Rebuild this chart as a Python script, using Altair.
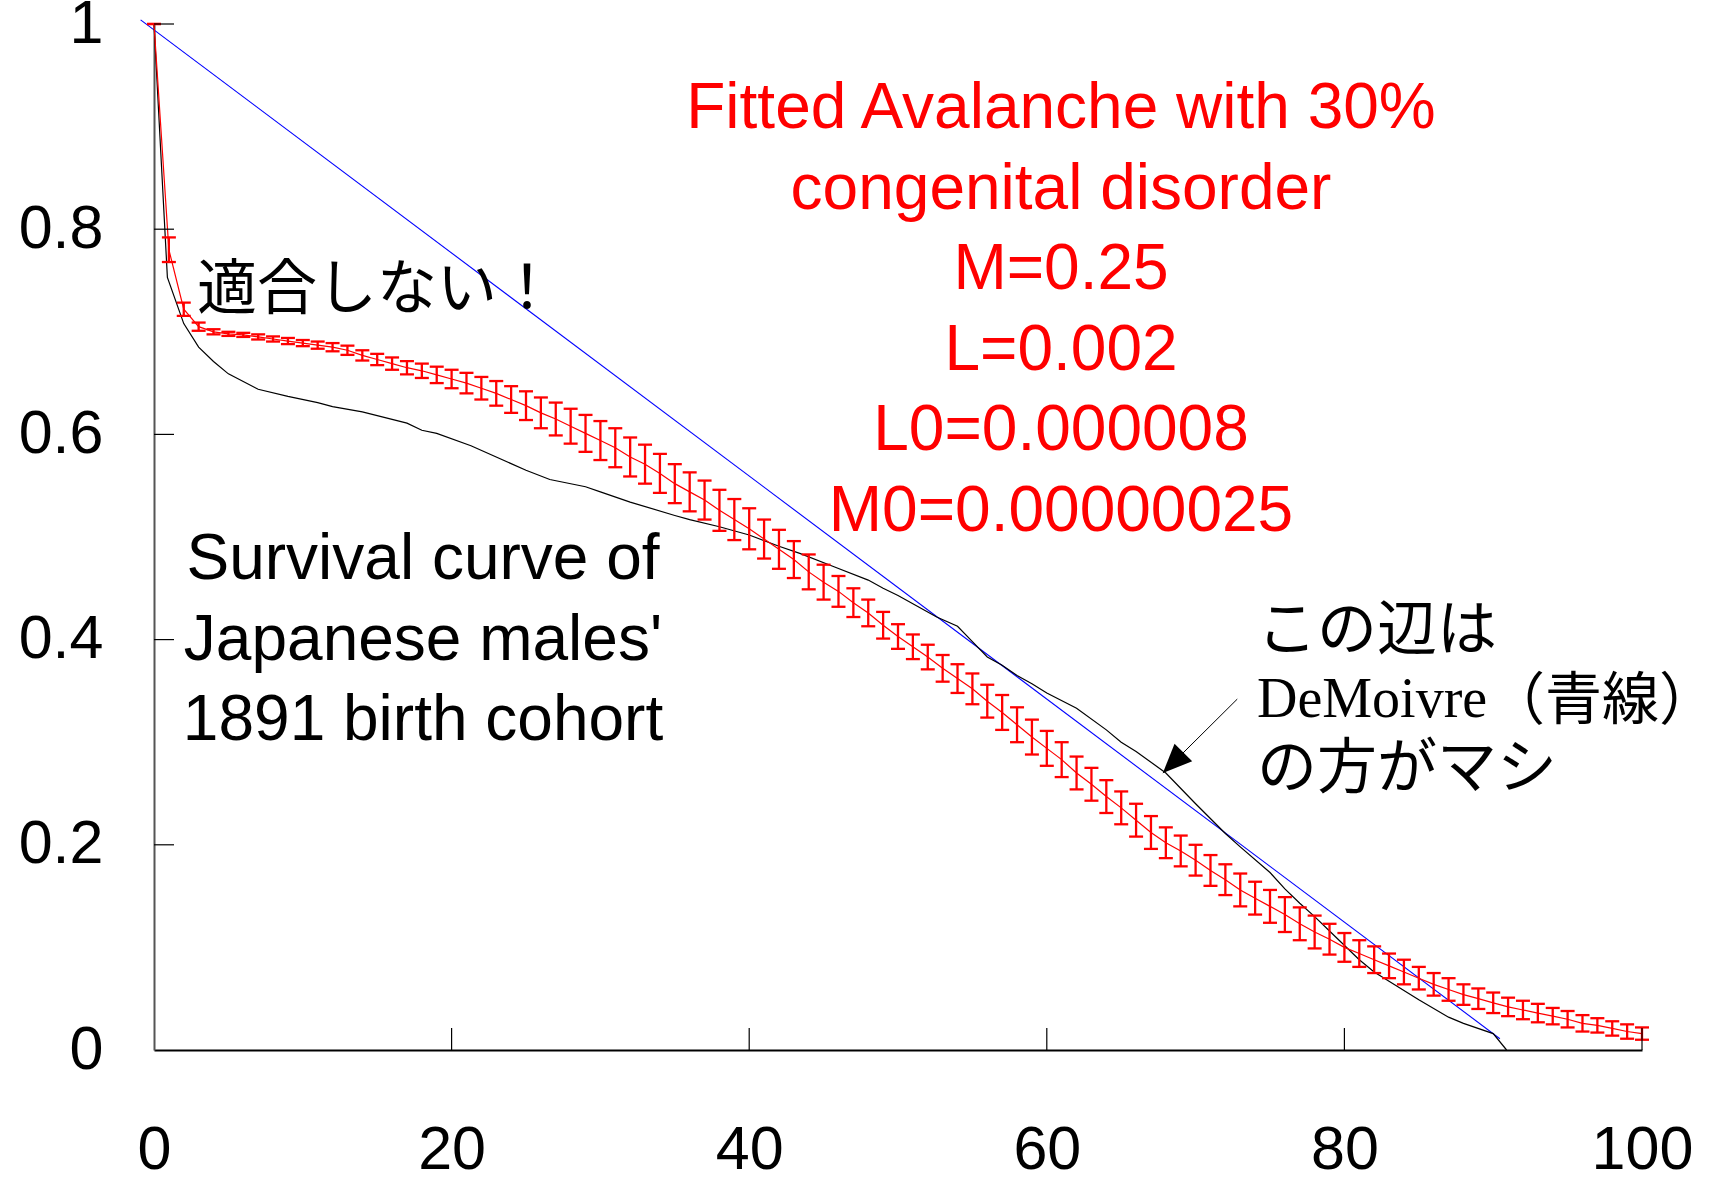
import altair as alt
import pandas as pd

# ---------------- data ----------------
fit_age = list(range(0, 101))
fit_surv = [1.0, 0.780, 0.722, 0.705, 0.700, 0.698, 0.697, 0.695, 0.693, 0.691,
            0.689, 0.687, 0.685, 0.682, 0.677, 0.673, 0.669, 0.665, 0.662, 0.658,
            0.654, 0.650, 0.645, 0.640, 0.634, 0.628, 0.621, 0.615, 0.608, 0.601,
            0.594, 0.587, 0.578, 0.571, 0.562, 0.552, 0.544, 0.536, 0.526, 0.517,
            0.508, 0.498, 0.488, 0.478, 0.466, 0.456, 0.447, 0.436, 0.426, 0.414,
            0.403, 0.393, 0.383, 0.372, 0.362, 0.352, 0.340, 0.329, 0.317, 0.305,
            0.294, 0.283, 0.270, 0.259, 0.247, 0.236, 0.224, 0.212, 0.202, 0.194,
            0.185, 0.175, 0.166, 0.156, 0.148, 0.140, 0.132, 0.123, 0.115, 0.108,
            0.100, 0.094, 0.088, 0.082, 0.076, 0.070, 0.064, 0.059, 0.054, 0.050,
            0.046, 0.042, 0.039, 0.036, 0.033, 0.030, 0.026, 0.024, 0.021, 0.018,
            0.016]
fit_err = [0.0, 0.012, 0.0065, 0.004, 0.0025, 0.002, 0.002, 0.0025, 0.0025, 0.003,
           0.003, 0.0035, 0.004, 0.0045, 0.005, 0.0055, 0.006, 0.0065, 0.007, 0.008,
           0.009, 0.010, 0.011, 0.012, 0.013, 0.014, 0.015, 0.016, 0.017, 0.018,
           0.019, 0.019, 0.019, 0.019, 0.019, 0.019, 0.019, 0.019, 0.020, 0.020,
           0.020, 0.019, 0.019, 0.018, 0.017, 0.017, 0.015, 0.014, 0.013, 0.013,
           0.012, 0.012, 0.012, 0.013, 0.014, 0.015, 0.016, 0.017, 0.017, 0.017,
           0.017, 0.017, 0.016, 0.016, 0.016, 0.016, 0.016, 0.016, 0.015, 0.015,
           0.015, 0.015, 0.015, 0.016, 0.016, 0.016, 0.017, 0.016, 0.016, 0.015,
           0.014, 0.013, 0.013, 0.012, 0.012, 0.011, 0.011, 0.011, 0.010, 0.010,
           0.010, 0.009, 0.009, 0.009, 0.008, 0.008, 0.008, 0.007, 0.007, 0.007,
           0.006]

cohort_age = [0, 0.9, 2, 3, 4, 5, 7, 9, 11, 12,
              14, 17, 18, 19, 21.3, 25, 26.6, 29, 30, 32,
              35, 36, 38, 40, 42, 43.4, 45.7, 48, 49, 50,
              52.6, 54, 55, 56, 57, 58, 59, 60, 62, 64,
              65, 66, 68, 70, 72, 73, 75, 76, 77, 78,
              79, 81, 82, 83, 84, 85, 87, 88, 90, 90.9]
cohort_surv = [1.0, 0.753, 0.708, 0.685, 0.671, 0.659, 0.644, 0.637, 0.631, 0.627,
               0.622, 0.611, 0.604, 0.601, 0.589, 0.565, 0.556, 0.549, 0.544, 0.534,
               0.521, 0.517, 0.510, 0.502, 0.491, 0.484, 0.471, 0.458, 0.450, 0.443,
               0.422, 0.413, 0.398, 0.383, 0.375, 0.365, 0.357, 0.348, 0.333, 0.312,
               0.300, 0.291, 0.270, 0.240, 0.211, 0.198, 0.173, 0.157, 0.143, 0.130,
               0.116, 0.088, 0.076, 0.067, 0.058, 0.049, 0.032, 0.026, 0.016, 0.0]

demoivre_age = [-0.9, 90.45]
demoivre_surv = [1.004, 0.011]

x_tick_values = [0, 20, 40, 60, 80, 100]
y_tick_values = [0, 0.2, 0.4, 0.6, 0.8, 1.0]

red_lines = ["Fitted Avalanche with 30%", "congenital disorder", "M=0.25",
             "L=0.002", "L0=0.000008", "M0=0.00000025"]
black_lines = ["Survival curve of", "Japanese males'", "1891 birth cohort"]
note_left = "適合しない！"
note_right_1 = "この辺は"
note_right_2a = "DeMoivre"
note_right_2b = "（青線）"
note_right_3 = "の方がマシ"
arrow_start = [72.8, 0.342]
arrow_tip = [67.8, 0.270]

# ---------------- tables ----------------
fit_df = pd.DataFrame({"age": fit_age, "surv": fit_surv, "err": fit_err})
fit_df["lo"] = fit_df["surv"] - fit_df["err"]
fit_df["hi"] = fit_df["surv"] + fit_df["err"]
cohort_df = pd.DataFrame({"age": cohort_age, "surv": cohort_surv})
demoivre_df = pd.DataFrame({"age": demoivre_age, "surv": demoivre_surv})
xt_df = pd.DataFrame({"v": x_tick_values[1:]})
yt_df = pd.DataFrame({"v": y_tick_values[1:]})
arrow_df = pd.DataFrame({"x": [arrow_start[0]], "y": [arrow_start[1]],
                         "x2": [arrow_tip[0]], "y2": [arrow_tip[1]]})
one = pd.DataFrame({"a": [0]})

W, H = 1488, 1026
SANS = "Liberation Sans, Arial, sans-serif"
CJK = "Noto Sans CJK JP"
SERIF = "Liberation Serif, Times New Roman, serif"

xs = alt.Scale(domain=[0, 100], nice=False, zero=False)
ys = alt.Scale(domain=[0, 1], nice=False, zero=False)
xaxis = alt.Axis(values=x_tick_values, ticks=False, grid=False, labelFont=SANS,
                 labelFontSize=61, labelColor="black", labelPadding=70,
                 labelFlush=False, labelOverlap=False, domainColor="black",
                 domainWidth=2, title=None)
yaxis = alt.Axis(values=y_tick_values, format="~g", ticks=False, grid=False,
                 labelFont=SANS, labelFontSize=61, labelColor="black",
                 labelPadding=51, labelFlush=False, labelOverlap=False,
                 domainColor="#555555", domainWidth=2, title=None)


def X(f):
    return alt.X(f, type="quantitative", scale=xs, axis=xaxis)


def Y(f):
    return alt.Y(f, type="quantitative", scale=ys, axis=yaxis)


blue = alt.Chart(demoivre_df).mark_line(color="#0000ff", strokeWidth=1.1).encode(
    x=X("age"), y=Y("surv"))
black = alt.Chart(cohort_df).mark_line(color="black", strokeWidth=1.2).encode(
    x=X("age"), y=Y("surv"))
red_line = alt.Chart(fit_df).mark_line(color="#ff0000", strokeWidth=1.2).encode(
    x=X("age"), y=Y("surv"))
red_bars = alt.Chart(fit_df).mark_rule(color="#ff0000", strokeWidth=2.3).encode(
    x=X("age"), y=Y("lo"), y2="hi")
red_cap_lo = alt.Chart(fit_df).mark_tick(color="#ff0000", orient="horizontal",
                                         size=14, thickness=2.3, opacity=1).encode(
    x=X("age"), y=Y("lo"))
red_cap_hi = alt.Chart(fit_df).mark_tick(color="#ff0000", orient="horizontal",
                                         size=14, thickness=2.3, opacity=1).encode(
    x=X("age"), y=Y("hi"))

x_ticks = alt.Chart(xt_df).mark_rule(color="black", strokeWidth=1.2).encode(
    x=X("v"), y=alt.value(H), y2=alt.value(H - 22))
y_ticks = alt.Chart(yt_df).mark_rule(color="black", strokeWidth=1.2).encode(
    y=Y("v"), x=alt.value(0), x2=alt.value(20))

arrow_shaft = alt.Chart(arrow_df).mark_rule(color="black", strokeWidth=1).encode(
    x=X("x"), y=Y("y"), x2="x2", y2="y2")
arrow_head = alt.Chart(arrow_df).mark_point(
    shape="M0,0L0.43,1L-0.43,1Z", filled=True, color="black", opacity=1,
    size=3364, angle=225, strokeWidth=0).encode(x=X("x2"), y=Y("y2"))

red_text = alt.Chart(one).mark_text(
    text=red_lines, font=SANS, fontSize=64, color="#ff0000", align="center",
    baseline="top", lineHeight=80.5).encode(x=alt.value(907), y=alt.value(53))
black_text = alt.Chart(one).mark_text(
    text=black_lines, font=SANS, fontSize=64, color="black", align="center",
    baseline="top", lineHeight=80.5).encode(x=alt.value(269), y=alt.value(504))
left_note = alt.Chart(one).mark_text(
    text=note_left, font=CJK, fontSize=60, color="black", align="left",
    baseline="middle").encode(x=alt.value(43), y=alt.value(267))
right1 = alt.Chart(one).mark_text(
    text=note_right_1, font=CJK, fontSize=60, color="black", align="left",
    baseline="middle").encode(x=alt.value(1103), y=alt.value(608))
right2a = alt.Chart(one).mark_text(
    text=note_right_2a, font=SERIF, fontSize=56, color="black", align="left",
    baseline="middle").encode(x=alt.value(1103), y=alt.value(676))
right2b = alt.Chart(one).mark_text(
    text=note_right_2b, font=CJK, fontSize=57, color="black", align="left",
    baseline="middle").encode(x=alt.value(1334), y=alt.value(678))
right3 = alt.Chart(one).mark_text(
    text=note_right_3, font=CJK, fontSize=60, color="black", align="left",
    baseline="middle").encode(x=alt.value(1103), y=alt.value(746))

chart = alt.layer(
    blue, black, red_line, red_bars, red_cap_lo, red_cap_hi,
    x_ticks, y_ticks, arrow_shaft, arrow_head,
    red_text, black_text, left_note, right1, right2a, right2b, right3,
).properties(
    width=W, height=H,
    autosize=alt.AutoSizeParams(type="none"),
    padding={"left": 154, "top": 24, "right": 77, "bottom": 132},
    background="white",
).configure_view(stroke=None)

chart.save("out.html", embed_options={"renderer": "svg", "actions": False})
